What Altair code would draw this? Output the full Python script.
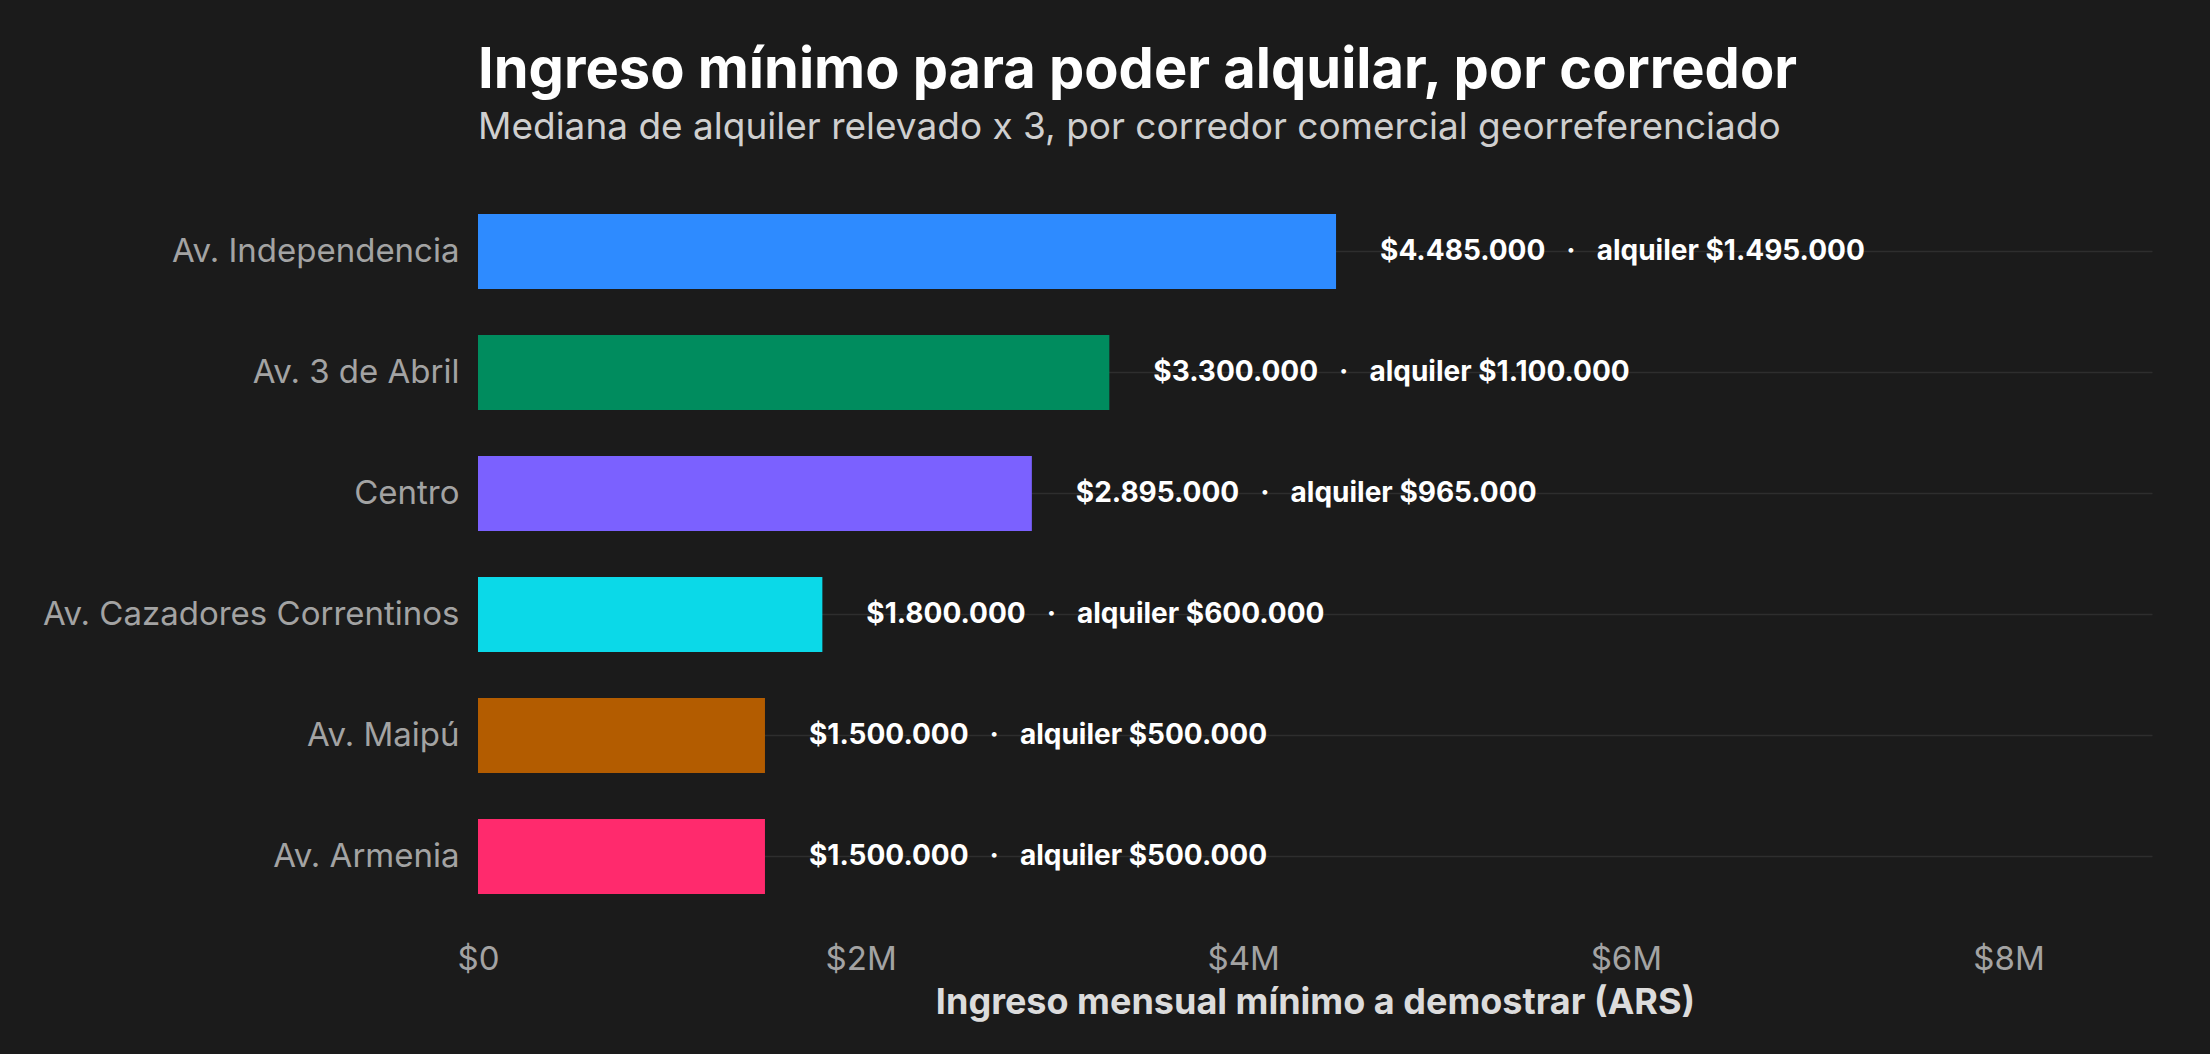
import altair as alt
import pandas as pd

FONT = "Inter"

# Corridors, ordered from highest to lowest required income
corredores = [
    "Av. Independencia",
    "Av. 3 de Abril",
    "Centro",
    "Av. Cazadores Correntinos",
    "Av. Maipú",
    "Av. Armenia",
]
ingreso_minimo = [4485000, 3300000, 2895000, 1800000, 1500000, 1500000]
alquiler_mediano = [1495000, 1100000, 965000, 600000, 500000, 500000]
colores = ["#2e8bff", "#008c5e", "#7b61ff", "#0bd9e8", "#b35c00", "#ff2a6d"]
x_ticks = [0, 2000000, 4000000, 6000000, 8000000]


def miles(v):
    return f"{v:,}".replace(",", ".")


df = pd.DataFrame(
    {
        "corredor": corredores,
        "ingreso": ingreso_minimo,
        "alquiler": alquiler_mediano,
    }
)
# Non-collapsing spaces around the separator dot
sep = "\u2002\u2005·\u2002\u2005"
df["etiqueta"] = [
    f"${miles(i)}{sep}alquiler ${miles(a)}"
    for i, a in zip(ingreso_minimo, alquiler_mediano)
]

y_enc = alt.Y(
    "corredor:N",
    sort=corredores,
    scale=alt.Scale(paddingInner=0.38, paddingOuter=0.19),
    axis=alt.Axis(
        title=None,
        grid=True,
        gridColor="#2e2e2e",
        gridWidth=1.5,
        bandPosition=0.5,
        domain=False,
        ticks=False,
        tickSize=0,
        labelPadding=19,
        labelLimit=600,
        labelFont=FONT,
        labelFontSize=33,
        labelColor="#a3a3a3",
    ),
)

x_enc = alt.X(
    "ingreso:Q",
    scale=alt.Scale(domain=[0, 8750000], nice=False),
    axis=alt.Axis(
        values=x_ticks,
        labelExpr="datum.value == 0 ? '$0' : '$' + format(datum.value / 1e6, 'd') + 'M'",
        grid=False,
        domain=False,
        ticks=False,
        tickSize=0,
        labelFlush=False,
        labelPadding=26,
        labelFont=FONT,
        labelFontSize=33,
        labelColor="#a3a3a3",
        title="Ingreso mensual mínimo a demostrar (ARS)",
        titleFont=FONT,
        titleFontSize=36,
        titleFontWeight="bold",
        titleColor="#dcdcdc",
        titlePadding=9,
    ),
)

base = alt.Chart(df).encode(y=y_enc)

bars = base.mark_bar().encode(
    x=x_enc,
    color=alt.Color(
        "corredor:N",
        scale=alt.Scale(domain=corredores, range=colores),
        legend=None,
    ),
)

labels = base.mark_text(
    align="left",
    baseline="middle",
    dx=44,
    font=FONT,
    fontSize=28,
    fontWeight="bold",
    color="#ffffff",
).encode(x=alt.X("ingreso:Q"), text="etiqueta:N")

chart = (
    alt.layer(bars, labels)
    .properties(
        width=1674,
        height=726,
        background="#1b1b1b",
        autosize=alt.AutoSizeParams(type="none"),
        padding={"left": 478, "top": 191, "right": 58, "bottom": 137},
        title=alt.Title(
            "Ingreso mínimo para poder alquilar, por corredor",
            subtitle="Mediana de alquiler relevado x 3, por corredor comercial georreferenciado",
            anchor="start",
            frame="group",
            font=FONT,
            fontSize=56,
            fontWeight="bold",
            color="#ffffff",
            subtitleFont=FONT,
            subtitleFontSize=37,
            subtitleColor="#cfcfcf",
            subtitlePadding=10,
            offset=44,
        ),
    )
    .configure_view(stroke=None)
)

chart.save("out.html", embed_options={"renderer": "svg", "actions": False})
